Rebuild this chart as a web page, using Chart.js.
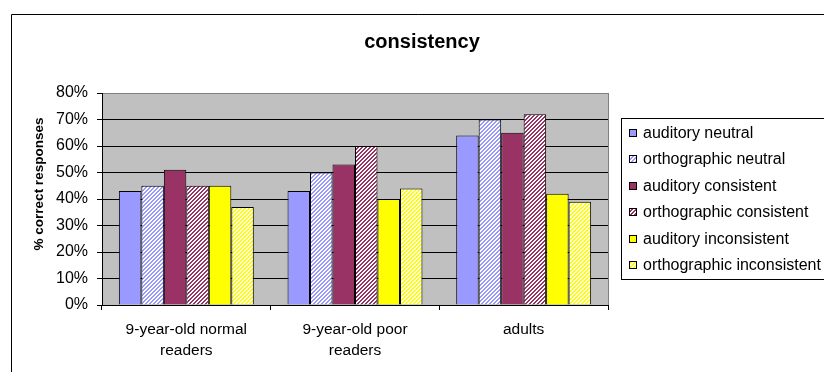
<!DOCTYPE html>
<html>
<head>
<meta charset="utf-8">
<script src="https://cdn.jsdelivr.net/npm/chart.js@4/dist/chart.umd.min.js"></script>
<style>
  html, body { margin: 0; padding: 0; background: #fff; }
  #wrap { width: 824px; height: 372px; }
</style>
</head>
<body>
<div id="wrap"><canvas id="c" width="824" height="372"></canvas></div>
<script>
// Reader groups and response conditions
const categories = [["9-year-old normal", "readers"], ["9-year-old poor", "readers"], "adults"];
const seriesNames = [
  "auditory neutral", "orthographic neutral",
  "auditory consistent", "orthographic consistent",
  "auditory inconsistent", "orthographic inconsistent"
];

// % correct responses per group
const auditoryNeutral          = [43, 43, 64];
const orthographicNeutral      = [45, 50, 70];
const auditoryConsistent       = [51, 53, 65];
const orthographicConsistent   = [45, 60, 72];
const auditoryInconsistent     = [45, 40, 42];
const orthographicInconsistent = [37, 44, 39];

const yMin = 0, yMax = 80, yStep = 10;
const chartTitle = "consistency";
const yAxisTitle = "% correct responses";

const FONT = "'Liberation Sans', Arial, sans-serif";
Chart.defaults.font.family = FONT;
Chart.defaults.color = "#000";

const canvas = document.getElementById("c");
const ctx = canvas.getContext("2d");

// Diagonal "///" hatch: coloured stripes on white
function hatch(color) {
  const t = document.createElement("canvas");
  t.width = 4; t.height = 4;
  const g = t.getContext("2d");
  g.fillStyle = "#fff";
  g.fillRect(0, 0, 4, 4);
  g.fillStyle = color;
  for (let y = 0; y < 4; y++) {
    for (let x = 0; x < 4; x++) {
      const k = (x + y) % 4;
      if (k === 0 || k === 1) g.fillRect(x, y, 1, 1);
    }
  }
  return ctx.createPattern(t, "repeat");
}

const BLUE = "#9999FF", PLUM = "#993366", YELLOW = "#FFFF00";
const seriesValues = [
  auditoryNeutral, orthographicNeutral,
  auditoryConsistent, orthographicConsistent,
  auditoryInconsistent, orthographicInconsistent
];
const seriesFills = [BLUE, hatch(BLUE), PLUM, hatch(PLUM), YELLOW, hatch(YELLOW)];

const datasets = seriesNames.map((name, i) => ({
  label: name,
  data: seriesValues[i],
  backgroundColor: seriesFills[i],
  borderColor: "#000",
  borderWidth: 1,
  categoryPercentage: 0.8,
  barPercentage: 1.0
}));

// Plot-area fill, outer frame, title, axis title and boxed legend
const decor = {
  id: "decor",
  beforeDraw(chart) {
    const { ctx, chartArea: a } = chart;
    ctx.save();
    ctx.fillStyle = "#fff";
    ctx.fillRect(0, 0, chart.width, chart.height);
    ctx.fillStyle = "#C0C0C0";
    ctx.fillRect(a.left, a.top, a.right - a.left, a.bottom - a.top);
    ctx.strokeStyle = "#808080";
    ctx.lineWidth = 1;
    ctx.strokeRect(a.left + 0.5, a.top + 0.5, a.right - a.left, a.bottom - a.top);
    ctx.restore();
  },
  afterDraw(chart) {
    const { ctx, chartArea: a } = chart;
    ctx.save();

    // outer frame (left and top edges visible)
    ctx.strokeStyle = "#000";
    ctx.lineWidth = 1;
    ctx.beginPath();
    ctx.moveTo(11.5, chart.height + 5);
    ctx.lineTo(11.5, 14.5);
    ctx.lineTo(chart.width + 5, 14.5);
    ctx.stroke();

    // chart title
    ctx.fillStyle = "#000";
    ctx.font = "bold 20px " + FONT;
    ctx.textAlign = "center";
    ctx.textBaseline = "middle";
    ctx.fillText(chartTitle, 422, 42);

    // y-axis title
    ctx.save();
    ctx.translate(39.5, 184);
    ctx.rotate(-Math.PI / 2);
    ctx.font = "bold 13.5px " + FONT;
    ctx.fillText(yAxisTitle, 0, 0);
    ctx.restore();

    // legend box
    const lx = 621, ly = 118, lh = 161;
    ctx.fillStyle = "#fff";
    ctx.fillRect(lx, ly, 300, lh);
    ctx.strokeStyle = "#000";
    ctx.strokeRect(lx + 0.5, ly + 0.5, 300, lh);
    ctx.font = "16px " + FONT;
    ctx.textAlign = "left";
    ctx.textBaseline = "middle";
    chart.data.datasets.forEach((ds, i) => {
      const cy = Math.round(133 + i * 26.4);
      ctx.fillStyle = ds.backgroundColor;
      ctx.fillRect(629, cy - 4, 8, 8);
      ctx.strokeStyle = "#000";
      ctx.strokeRect(629.5, cy - 3.5, 7, 7);
      ctx.fillStyle = "#000";
      ctx.fillText(ds.label, 643, cy + 1);
    });

    ctx.restore();
  }
};

new Chart(canvas, {
  type: "bar",
  data: { labels: categories, datasets },
  plugins: [decor],
  options: {
    responsive: false,
    animation: false,
    events: [],
    layout: { padding: { left: 0, top: 93, right: 216, bottom: 0 } },
    plugins: {
      legend: { display: false },
      title: { display: false },
      tooltip: { enabled: false }
    },
    scales: {
      x: {
        offset: true,
        grid: {
          offset: true,
          drawOnChartArea: false,
          drawTicks: true,
          tickLength: 5,
          color: "#000",
          tickColor: "#000"
        },
        border: { color: "#000", width: 1 },
        ticks: {
          color: "#000",
          font: { size: 15.5, lineHeight: 1.3 },
          padding: 10,
          maxRotation: 0,
          autoSkip: false
        },
        afterFit(s) { s.height = 67; }
      },
      y: {
        min: yMin,
        max: yMax,
        ticks: {
          stepSize: yStep,
          color: "#000",
          font: { size: 16 },
          padding: 9,
          callback: v => v + "%"
        },
        grid: {
          color: c => (c.tick && c.tick.value === yMax ? "#808080" : "#000"),
          tickColor: "#000",
          tickLength: 5
        },
        border: { color: "#000", width: 1 },
        afterFit(s) { s.width = 102; }
      }
    }
  }
});
</script>
</body>
</html>
